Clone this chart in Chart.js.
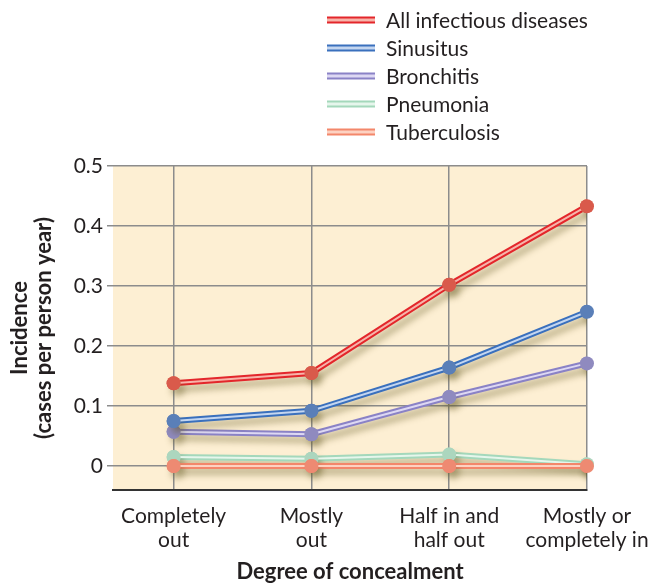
<!DOCTYPE html>
<html>
<head>
<meta charset="utf-8">
<script src="https://cdn.jsdelivr.net/npm/chart.js@4.4.1/dist/chart.umd.min.js"></script>
<style>
  html, body { margin: 0; padding: 0; background: #fff; }
  #wrap { width: 649px; height: 584px; }
</style>
</head>
<body>
<div id="wrap"><canvas id="chart" width="649" height="584"></canvas></div>
<script>
// categories (x) and tick labels
const categories = [
  ['Completely', 'out'],
  ['Mostly', 'out'],
  ['Half in and', 'half out'],
  ['Mostly or', 'completely in']
];
const yTicks = [0, 0.1, 0.2, 0.3, 0.4, 0.5];

// series values
const allInfectious = [0.138, 0.155, 0.302, 0.433];
const sinusitus     = [0.075, 0.092, 0.164, 0.257];
const bronchitis    = [0.057, 0.053, 0.115, 0.171];
const pneumonia     = [0.015, 0.012, 0.019, 0.003];
const tuberculosis  = [0, 0, 0, 0];

const PLOT_BG = '#fdefd3';
const FONT = 'Lato, "Open Sans", sans-serif';

function series(label, values, outer, inner, point, order) {
  return {
    label: label,
    data: values.map((v, i) => ({ x: i, y: v })),
    borderColor: outer,
    innerColor: inner,
    borderWidth: 6,
    pointRadius: 7,
    pointBackgroundColor: point,
    pointBorderColor: point,
    pointBorderWidth: 0,
    tension: 0,
    order: order
  };
}

const datasets = [
  series('All infectious diseases', allInfectious, '#e3262b', '#f7b4aa', '#d95a4b', 1),
  series('Sinusitus', sinusitus, '#3a70bd', '#c4d6f0', '#5a7fb8', 2),
  series('Bronchitis', bronchitis, '#8a82c6', '#ddd8f3', '#8f8abf', 3),
  series('Pneumonia', pneumonia, '#a4d8bb', '#e6f6ec', '#acd6be', 5),
  series('Tuberculosis', tuberculosis, '#f3876b', '#fdd2c2', '#ee8a72', 4)
];

// plot background
const plotBg = {
  id: 'plotBg',
  beforeDraw(chart) {
    const { ctx, chartArea: a } = chart;
    ctx.save();
    ctx.fillStyle = PLOT_BG;
    ctx.fillRect(a.left, a.top, a.right - a.left, a.bottom - a.top);
    ctx.restore();
  }
};

// drop shadow + light inner stripe to get the doubled line look
const doubleLine = {
  id: 'doubleLine',
  beforeDatasetDraw(chart) {
    const ctx = chart.ctx;
    ctx.save();
    ctx.shadowColor = 'rgba(95, 85, 30, 0.38)';
    ctx.shadowBlur = 6;
    ctx.shadowOffsetX = 4;
    ctx.shadowOffsetY = 6;
  },
  afterDatasetDraw(chart, args) {
    const ctx = chart.ctx;
    ctx.restore();
    const ds = chart.data.datasets[args.index];
    const pts = args.meta.data;
    ctx.save();
    ctx.strokeStyle = ds.innerColor;
    ctx.lineWidth = 2;
    ctx.lineJoin = 'round';
    ctx.beginPath();
    pts.forEach((p, i) => i ? ctx.lineTo(p.x, p.y) : ctx.moveTo(p.x, p.y));
    ctx.stroke();
    ctx.restore();
    pts.forEach(p => p.draw(ctx, chart.chartArea));
  }
};

// stacked legend at the top right
const stackLegend = {
  id: 'stackLegend',
  afterDraw(chart) {
    const ctx = chart.ctx;
    ctx.save();
    ctx.font = '21px ' + FONT;
    ctx.textBaseline = 'middle';
    chart.data.datasets.forEach((ds, i) => {
      const y = 20 + i * 28;
      ctx.lineWidth = 7;
      ctx.strokeStyle = ds.borderColor;
      ctx.beginPath(); ctx.moveTo(327, y); ctx.lineTo(375, y); ctx.stroke();
      ctx.lineWidth = 3;
      ctx.strokeStyle = ds.innerColor;
      ctx.beginPath(); ctx.moveTo(327, y); ctx.lineTo(375, y); ctx.stroke();
      ctx.fillStyle = '#231f20';
      ctx.fillText(ds.label, 386, y + 1);
    });
    ctx.restore();
  }
};

new Chart(document.getElementById('chart'), {
  type: 'line',
  data: { datasets: datasets },
  plugins: [plotBg, doubleLine, stackLegend],
  options: {
    responsive: false,
    animation: false,
    layout: { padding: { top: 166, right: 62, left: 0, bottom: 0 } },
    plugins: { legend: { display: false }, tooltip: { enabled: false } },
    scales: {
      x: {
        type: 'linear',
        min: -0.44,
        max: 3,
        afterBuildTicks: s => { s.ticks = categories.map((c, i) => ({ value: i })); },
        afterFit: s => { s.height = 94; s.paddingLeft = 0; s.paddingRight = 0; },
        ticks: {
          autoSkip: false,
          maxRotation: 0,
          padding: 14,
          color: '#231f20',
          font: { family: FONT, size: 21, lineHeight: 1.14 },
          callback: v => categories[v]
        },
        grid: { color: '#8c8c8c', lineWidth: 1.5, drawTicks: false },
        border: { display: true, color: '#333', width: 2 },
        title: {
          display: true,
          text: 'Degree of concealment',
          color: '#231f20',
          padding: 0,
          font: { family: FONT, size: 22, weight: 'bold', lineHeight: 1.1 }
        }
      },
      y: {
        min: -0.04,
        max: 0.5,
        afterBuildTicks: s => { s.ticks = yTicks.map(v => ({ value: v })); },
        afterFit: s => { s.width = 113; s.paddingTop = 0; s.paddingBottom = 0; },
        ticks: {
          padding: 4,
          color: '#231f20',
          font: { family: FONT, size: 21 },
          callback: v => v === 0 ? '0' : v.toFixed(1)
        },
        grid: { color: '#8c8c8c', lineWidth: 1.5, tickLength: 6 },
        border: { display: false },
        title: {
          display: true,
          text: ['Incidence', '(cases per person year)'],
          color: '#231f20',
          padding: { top: 8, bottom: 0 },
          font: { family: FONT, size: 22, weight: 'bold', lineHeight: 1.1 }
        }
      }
    }
  }
});
</script>
</body>
</html>
